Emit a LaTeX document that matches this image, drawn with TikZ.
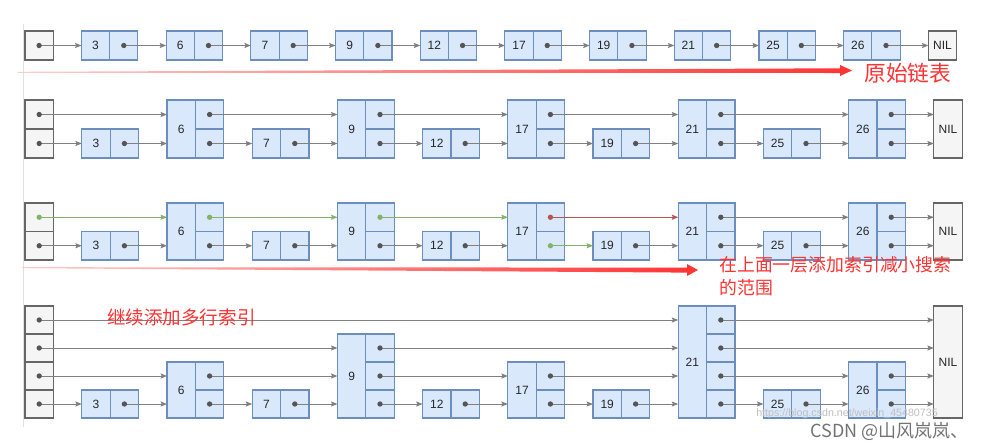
\documentclass[tikz,border=0pt]{standalone}
\usepackage{fontspec}
\setmainfont{Liberation Sans}
\newfontfamily\cjk{Noto Sans CJK SC}
\usetikzlibrary{arrows.meta}
\definecolor{nodefill}{HTML}{DAE8FC}
\definecolor{nodedraw}{HTML}{6C8EBF}
\definecolor{headfill}{HTML}{F5F5F5}
\definecolor{headdraw}{HTML}{666666}
\definecolor{linkgray}{HTML}{808080}
\definecolor{dotgray}{HTML}{555555}
\definecolor{okgreen}{HTML}{82B366}
\definecolor{badred}{HTML}{B85450}
\definecolor{notered}{HTML}{FF3333}
\tikzset{
  cellbox/.style={draw=nodedraw, fill=nodefill, line width=0.8pt, inner sep=0pt, outer sep=0pt},
  headbox/.style={draw=headdraw, fill=headfill, line width=0.8pt, inner sep=0pt, outer sep=0pt},
  celldiv/.style={draw=nodedraw, line width=0.8pt},
  headdiv/.style={draw=headdraw, line width=0.8pt},
  vallabel/.style={font=\fontsize{9}{10}\selectfont, text=black!85, inner sep=0pt},
  link/.style={line width=0.75pt, -{Stealth[length=4.8pt,width=3.8pt,inset=0.8pt]}},
  dotmark/.style={circle, inner sep=0pt, minimum size=4pt},
  notetext/.style={text=notered, inner sep=0pt, anchor=west},
}
% #1 name, #2 bottom y, #3 cell width, #4 cell height, #5 max level, #6 list p/L/label
\newcommand\skiprow[6]{%
  \pgfmathsetmacro\ww{#3*0.75}%
  \pgfmathsetmacro\bw{2*#3*0.75}%
  \pgfmathsetmacro\fh{#5*#4*0.75}%
  \pgfmathsetmacro\nx{25+32*#3}%
  \node[headbox, minimum width=\ww pt, minimum height=\fh pt, anchor=south west] (#1-0) at (25,#2) {};
  \node[headbox, minimum width=\ww pt, minimum height=\fh pt, anchor=south west] (#1-11) at (\nx,#2) {};
  \node[vallabel] (#1-11-t) at (#1-11.center) {NIL};
  \foreach \k in {1,...,#5}{%
    \coordinate (#1-0-o\k) at (25+0.5*#3, #2-\k*#4+0.5*#4);
    \coordinate (#1-11-i\k) at (\nx, #2-\k*#4+0.5*#4);
  }
  \ifnum#5>1
    \foreach \k in {2,...,#5}{\draw[headdiv] (25,#2-\k*#4+#4) -- ++(#3,0);}
  \fi
  \foreach \p/\L/\lab in {#6}{%
    \pgfmathsetmacro\xl{25+(3*\p-1)*#3}%
    \pgfmathsetmacro\nh{\L*#4*0.75}%
    \node[cellbox, minimum width=\bw pt, minimum height=\nh pt, anchor=south west] (#1-\p) at (\xl,#2) {};
    \node[vallabel] (#1-\p-t) at (\xl+0.5*#3, #2-0.5*\L*#4) {\lab};
    \draw[celldiv] (\xl+#3,#2) -- ++(0,-\L*#4);
    \ifnum\L>1
      \foreach \k in {2,...,\L}{\draw[celldiv] (\xl+#3,#2-\k*#4+#4) -- ++(#3,0);}
    \fi
    \foreach \k in {1,...,\L}{%
      \coordinate (#1-\p-o\k) at (\xl+1.5*#3, #2-\k*#4+0.5*#4);
      \coordinate (#1-\p-i\k) at (\xl, #2-\k*#4+0.5*#4);
    }
  }
}
% #1 row, #2 line colour, #3 dot colour, #4 list p/q/k
\newcommand\skiplinks[4]{%
  \foreach \p/\q/\k in {#4}{%
    \draw[link, draw=#2] (#1-\p-o\k) -- (#1-\q-i\k);
    \node[dotmark, fill=#3] (#1-\p-d\k) at (#1-\p-o\k) {};
  }
}
\begin{document}
\begin{tikzpicture}[x=0.75pt, y=-0.75pt]
\useasboundingbox (0,0) rectangle (988,447);
\fill[white] (0,0) rectangle (988,447);
\draw[black!12, line width=1.1pt] (23.5,24) -- (23.5,427);

% row 1: original list
\skiprow{a}{60}{28.23}{29}{1}{1/1/3,2/1/6,3/1/7,4/1/9,5/1/12,6/1/17,7/1/19,8/1/21,9/1/25,10/1/26}
\skiplinks{a}{linkgray}{dotgray}{0/1/1,1/2/1,2/3/1,3/4/1,4/5/1,5/6/1,6/7/1,7/8/1,8/9/1,9/10/1,10/11/1}

% row 2: one index level
\skiprow{b}{158}{28.4}{29}{2}{1/1/3,2/2/6,3/1/7,4/2/9,5/1/12,6/2/17,7/1/19,8/2/21,9/1/25,10/2/26}
\skiplinks{b}{linkgray}{dotgray}{0/1/1,1/2/1,2/3/1,3/4/1,4/5/1,5/6/1,6/7/1,7/8/1,8/9/1,9/10/1,10/11/1,0/2/2,2/4/2,4/6/2,6/8/2,8/10/2,10/11/2}

% row 3: search path
\skiprow{c}{260}{28.4}{28.5}{2}{1/1/3,2/2/6,3/1/7,4/2/9,5/1/12,6/2/17,7/1/19,8/2/21,9/1/25,10/2/26}
\skiplinks{c}{linkgray}{dotgray}{0/1/1,1/2/1,2/3/1,3/4/1,4/5/1,5/6/1,7/8/1,8/9/1,9/10/1,10/11/1,8/10/2,10/11/2}
\skiplinks{c}{okgreen}{okgreen}{0/2/2,2/4/2,4/6/2,6/7/1}
\skiplinks{c}{badred}{badred}{6/8/2}

% row 4: several index levels
\skiprow{d}{418}{28.4}{28}{4}{1/1/3,2/2/6,3/1/7,4/3/9,5/1/12,6/2/17,7/1/19,8/4/21,9/1/25,10/2/26}
\skiplinks{d}{linkgray}{dotgray}{0/1/1,1/2/1,2/3/1,3/4/1,4/5/1,5/6/1,6/7/1,7/8/1,8/9/1,9/10/1,10/11/1,0/2/2,2/4/2,4/6/2,6/8/2,8/10/2,10/11/2,0/4/3,4/8/3,8/11/3,0/8/4,8/11/4}

% red annotation arrows
\shade[left color=notered!25, right color=notered] (18,71.8) -- (840,68.3) -- (840,65) -- (852,70.5) -- (840,76) -- (840,73) -- (18,72.8) -- cycle;
\shade[left color=notered!25, right color=notered] (22,267.2) -- (687,267.6) -- (687,264) -- (698,270) -- (687,276) -- (687,272.6) -- (22,268.2) -- cycle;

% notes
\node[notetext, font=\cjk\fontsize{16.3}{18}\selectfont] (t1) at (864,73) {原始链表};
\node[notetext, font=\cjk\fontsize{13.4}{17.25}\selectfont, align=left] (t2) at (719,276.5) {在上面一层添加索引减小搜索\\的范围};
\node[notetext, font=\cjk\fontsize{13.9}{16}\selectfont] (t3) at (107,317) {继续添加多行索引};

% watermark
\node[anchor=west, inner sep=0pt, text=black!25, font=\fontsize{8}{9}\selectfont] (wm1) at (756,414) {https://blog.csdn.net/weixin\_45480735};
\node[anchor=west, inner sep=0pt, text=black!55, font=\cjk\fontsize{13.5}{15}\selectfont] (wm2) at (810,431) {CSDN @山风岚岚、};
\end{tikzpicture}
\end{document}
